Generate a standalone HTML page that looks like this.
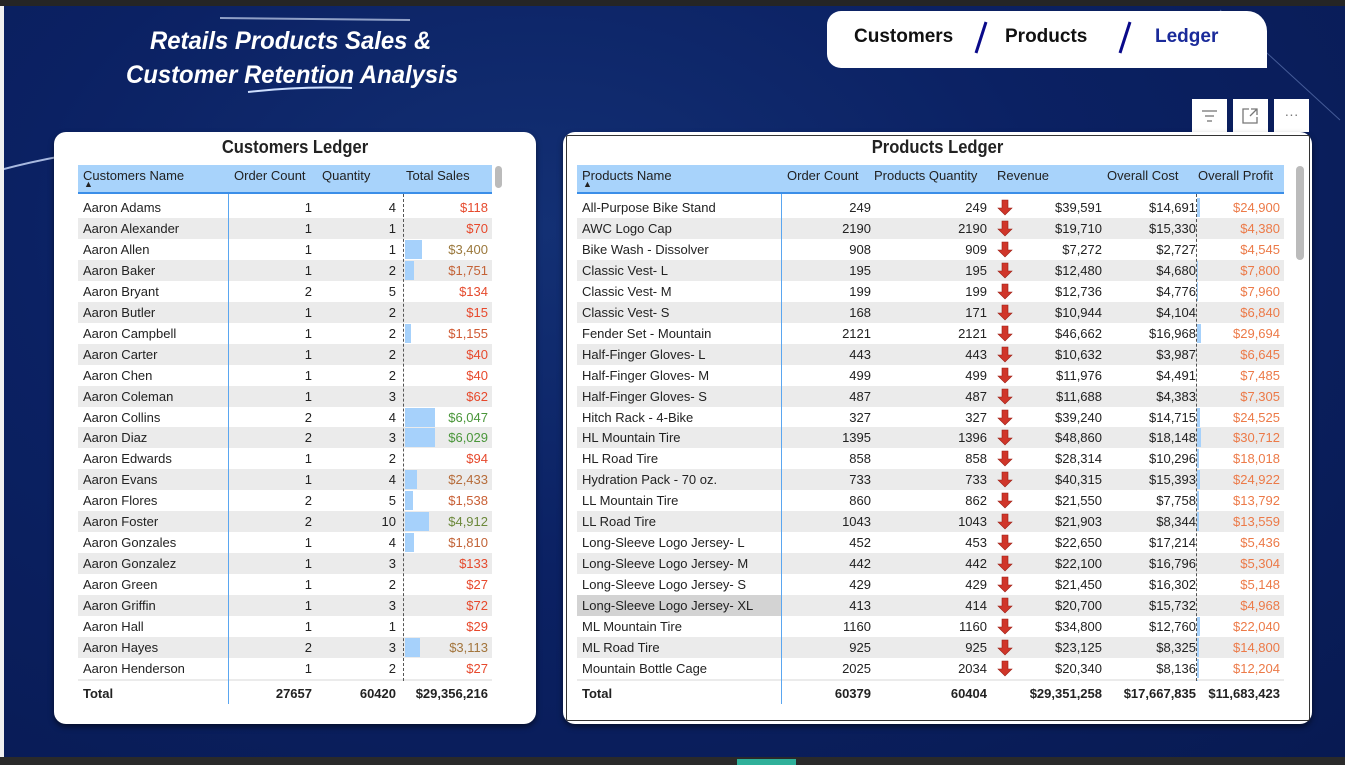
<!DOCTYPE html>
<html><head><meta charset="utf-8">
<style>
*{box-sizing:border-box;margin:0;padding:0}
body{width:1345px;height:765px;overflow:hidden;font-family:"Liberation Sans",sans-serif;background:#0b1f5c;position:relative}
#bg{position:absolute;left:0;top:0;width:1345px;height:765px;background:radial-gradient(ellipse at 40% 30%,#133074 0%,#0b2163 45%,#081a52 100%)}
.abs{position:absolute}
.title{color:#fff;font-weight:bold;font-style:italic;font-size:25px;white-space:nowrap;transform-origin:left top;transform:scaleX(0.955)}
.card{position:absolute;background:#fff;border-radius:12px;box-shadow:0 3px 6px rgba(0,0,0,.5)}
.ct{position:absolute;font-weight:bold;font-size:18px;color:#222;text-align:center;transform:scaleX(.92)}
.cell{position:absolute;font-size:13px;color:#222;white-space:nowrap;line-height:21px;height:21px}
.hdr{position:absolute;background:#a8d3fb;border-bottom:2px solid #3b8ee8}
.hc{position:absolute;font-size:13px;color:#222;top:3px;white-space:nowrap}
.r{text-align:right}
</style></head><body>
<div id="bg"></div>
<svg class="abs" style="left:0;top:0" width="1345" height="765">
<path d="M0 170 Q150 130 310 150" stroke="#cfe0ff" stroke-width="2" fill="none" opacity=".8"/>
<path d="M220 18 L410 20" stroke="#c8d4f0" stroke-width="2" fill="none" opacity=".7"/>
<path d="M248 92 Q300 86 352 88" stroke="#cfe0ff" stroke-width="2" fill="none"/>
<path d="M1220 10 L1340 120" stroke="#6d84c0" stroke-width="1" fill="none" opacity=".6"/>
</svg>
<div class="abs" style="left:0;top:0;width:1345px;height:6px;background:#252525"></div>
<div class="abs" style="left:0;top:757px;width:1345px;height:8px;background:#2a2a2a"></div>
<div class="abs" style="left:737px;top:759px;width:59px;height:6px;background:#2fb09a"></div>
<div class="abs" style="left:0;top:6px;width:4px;height:751px;background:#f0f0f0"></div>

<div class="abs title" style="left:150px;top:27px">Retails Products Sales &amp;</div>
<div class="abs title" style="left:126px;top:61px">Customer Retention Analysis</div>

<div class="abs" style="left:827px;top:11px;width:440px;height:57px;background:#fff;border-radius:14px 20px 0 14px"></div>
<div class="abs" style="left:854px;top:26px;font-size:19px;font-weight:bold;color:#111">Customers</div>
<div class="abs" style="left:1005px;top:26px;font-size:19px;font-weight:bold;color:#111">Products</div>
<div class="abs" style="left:1155px;top:26px;font-size:19px;font-weight:bold;color:#1a2a9a">Ledger</div>
<svg class="abs" style="left:960px;top:18px" width="200" height="40">
<line x1="26" y1="4" x2="16" y2="35" stroke="#0a0a8a" stroke-width="3"/>
<line x1="170" y1="4" x2="160" y2="35" stroke="#0a0a8a" stroke-width="3"/>
</svg>

<div class="abs" style="left:1192px;top:99px;width:35px;height:33px;background:#fff"><svg width="35" height="33"><g stroke="#777" stroke-width="1.3"><line x1="10" y1="12" x2="25" y2="12"/><line x1="13" y1="17" x2="22" y2="17"/><line x1="15" y1="22" x2="20" y2="22"/></g></svg></div>
<div class="abs" style="left:1233px;top:99px;width:35px;height:33px;background:#fff"><svg width="35" height="33"><g stroke="#777" stroke-width="1.3" fill="none"><path d="M16 10 H10 V24 H24 V18"/><path d="M18 10 H24 V16 M24 10 L17 17"/></g></svg></div>
<div class="abs" style="left:1274px;top:99px;width:35px;height:33px;background:#fff;color:#777;font-size:14px;text-align:center;line-height:30px">···</div>

<div class="card" style="left:54px;top:132px;width:482px;height:592px"></div>
<div class="ct" style="left:54px;top:137px;width:482px">Customers Ledger</div>
<div class="card" style="left:563px;top:132px;width:749px;height:592px"></div>
<div class="abs" style="left:566px;top:135px;width:744px;height:586px;border:1px solid #333;border-radius:2px"></div>
<div class="ct" style="left:563px;top:137px;width:749px">Products Ledger</div>

<div id="cust"></div>
<div id="prod"></div>

<script>
const custNames=["Aaron Adams","Aaron Alexander","Aaron Allen","Aaron Baker","Aaron Bryant","Aaron Butler","Aaron Campbell","Aaron Carter","Aaron Chen","Aaron Coleman","Aaron Collins","Aaron Diaz","Aaron Edwards","Aaron Evans","Aaron Flores","Aaron Foster","Aaron Gonzales","Aaron Gonzalez","Aaron Green","Aaron Griffin","Aaron Hall","Aaron Hayes","Aaron Henderson","Aaron Howard"];
const custOrders=[1,1,1,1,2,1,1,1,1,1,2,2,1,1,2,2,1,1,1,1,1,2,1,1];
const custQty=[4,1,1,2,5,2,2,2,2,3,4,3,2,4,5,10,4,3,2,3,1,3,2,1];
const custSales=[118,70,3400,1751,134,15,1155,40,40,62,6047,6029,94,2433,1538,4912,1810,133,27,72,29,3113,27,34];
const custTotals=["27657","60420","$29,356,216"];

const prodNames=["All-Purpose Bike Stand","AWC Logo Cap","Bike Wash - Dissolver","Classic Vest- L","Classic Vest- M","Classic Vest- S","Fender Set - Mountain","Half-Finger Gloves- L","Half-Finger Gloves- M","Half-Finger Gloves- S","Hitch Rack - 4-Bike","HL Mountain Tire","HL Road Tire","Hydration Pack - 70 oz.","LL Mountain Tire","LL Road Tire","Long-Sleeve Logo Jersey- L","Long-Sleeve Logo Jersey- M","Long-Sleeve Logo Jersey- S","Long-Sleeve Logo Jersey- XL","ML Mountain Tire","ML Road Tire","Mountain Bottle Cage","Mountain Tire Tube"];
const prodOrders=[249,2190,908,195,199,168,2121,443,499,487,327,1395,858,733,860,1043,452,442,429,413,1160,925,2025,3000];
const prodQty=[249,2190,909,195,199,171,2121,443,499,487,327,1396,858,733,862,1043,453,442,429,414,1160,925,2034,3000];
const prodRevenue=[39591,19710,7272,12480,12736,10944,46662,10632,11976,11688,39240,48860,28314,40315,21550,21903,22650,22100,21450,20700,34800,23125,20340,15000];
const prodCost=[14691,15330,2727,4680,4776,4104,16968,3987,4491,4383,14715,18148,10296,15393,7758,8344,17214,16796,16302,15732,12760,8325,8136,6000];
const prodProfit=[24900,4380,4545,7800,7960,6840,29694,6645,7485,7305,24525,30712,18018,24922,13792,13559,5436,5304,5148,4968,22040,14800,12204,9000];
const prodTotals=["60379","60404","$29,351,258","$17,667,835","$11,683,423"];

const fmt=v=>"$"+v.toLocaleString("en-US");
const ROW0=197,RH=20.95,CLIP=681;
function mk(parent,cls,css,txt){const d=document.createElement("div");d.className=cls;d.style.cssText=css;if(txt!==undefined)d.textContent=txt;parent.appendChild(d);return d;}
function lerp(a,b,t){return a.map((x,i)=>Math.round(x+(b[i]-x)*t));}
function salesColor(v){const t=Math.min(1,v/6000);let c;if(t<0.45)c=lerp([232,72,44],[176,112,60],t/0.45);else c=lerp([176,112,60],[74,150,58],(t-0.45)/0.55);return `rgb(${c})`;}

const C=document.getElementById("cust");
const cx={l:78,r:492};
const hdr=mk(C,"hdr",`left:${cx.l}px;top:165px;width:${cx.r-cx.l}px;height:29px`);


[["Customers Name",5],["Order Count",156],["Quantity",244],["Total Sales",328]].forEach(h=>{const e=mk(hdr,"hc",`left:${h[1]}px`,h[0]);});
const ar=mk(hdr,"hc","left:6px;top:14px;font-size:9px","▲");


const cbody=mk(C,"abs",`left:${cx.l}px;top:${ROW0}px;width:${cx.r-cx.l}px;height:${CLIP-ROW0}px;overflow:hidden`);


const maxS=Math.max(...custSales);
custNames.forEach((n,i)=>{
  const row=mk(cbody,"abs",`left:0;top:${i*RH}px;width:100%;height:21px;background:${i%2?"#ebebeb":"#fff"}`);
  
  
  const bw=custSales[i]/maxS*30;
  if(bw>=1.5){const b=mk(row,"abs",`left:327px;top:1px;width:${bw}px;height:19px;background:#a6d1fb`);}
  mk(row,"cell","left:5px",n);
  mk(row,"cell r",`left:150px;width:84px`,custOrders[i]);
  mk(row,"cell r",`left:240px;width:78px`,custQty[i]);
  const s=mk(row,"cell r",`left:330px;width:80px;color:${salesColor(custSales[i])}`,fmt(custSales[i]));
  
  
});
mk(C,"abs",`left:228px;top:194px;width:1px;height:510px;background:#5aa6f0`);
mk(C,"abs",`left:403px;top:194px;width:0;height:487px;border-left:1px dashed #555`);
const ct=mk(C,"abs",`left:${cx.l}px;top:683px;width:${cx.r-cx.l}px;height:21px;font-weight:bold`);


mk(ct,"cell","left:5px;font-weight:bold","Total");
mk(ct,"cell r","left:150px;width:84px;font-weight:bold",custTotals[0]);
mk(ct,"cell r","left:240px;width:78px;font-weight:bold",custTotals[1]);
mk(ct,"cell r","left:320px;width:90px;font-weight:bold",custTotals[2]);
const sb1=mk(C,"abs","left:495px;top:166px;width:7px;height:22px;background:#bbb;border-radius:4px");



const P=document.getElementById("prod");
const px={l:577,r:1284};
const ph=mk(P,"hdr",`left:${px.l}px;top:165px;width:${px.r-px.l}px;height:29px`);


[["Products Name",5],["Order Count",210],["Products Quantity",297],["Revenue",420],["Overall Cost",530],["Overall Profit",621]].forEach(h=>{const e=mk(ph,"hc",`left:${h[1]}px`,h[0]);});
const par=mk(ph,"hc","left:6px;top:14px;font-size:9px","▲");


const pbody=mk(P,"abs",`left:${px.l}px;top:${ROW0}px;width:${px.r-px.l}px;height:${CLIP-ROW0}px;overflow:hidden`);


const maxP=Math.max(...prodProfit);
prodNames.forEach((n,i)=>{
  const row=mk(pbody,"abs",`left:0;top:${i*RH}px;width:100%;height:21px;background:${i%2?"#ebebeb":"#fff"}`);
  
  
  if(i===19){mk(row,"abs","left:0;top:0;width:204px;height:21px;background:#d3d3d3");}
  const bw=prodProfit[i]/maxP*4;
  if(bw>=1){const b=mk(row,"abs",`left:620px;top:1px;width:${bw}px;height:19px;background:#a6d1fb`);}
  mk(row,"cell","left:5px",n);
  mk(row,"cell r","left:200px;width:94px",prodOrders[i]);
  mk(row,"cell r","left:300px;width:110px",prodQty[i]);
  const a=mk(row,"abs","left:420px;top:2px;width:16px;height:17px");
  a.innerHTML='<svg width="16" height="17"><path d="M5 1 H11 V9 H15 L8 16 L1 9 H5 Z" fill="#d0362a" stroke="#9a1e14" stroke-width="0.6"/></svg>';
  
  
  mk(row,"cell r","left:440px;width:85px",fmt(prodRevenue[i]));
  mk(row,"cell r","left:530px;width:89px",fmt(prodCost[i]));
  const pf=mk(row,"cell r","left:625px;width:78px;color:#ec7a48",fmt(prodProfit[i]));
  
  
});
mk(P,"abs","left:781px;top:194px;width:1px;height:510px;background:#5aa6f0");
mk(P,"abs","left:1196px;top:194px;width:0;height:487px;border-left:1px dashed #555");
const pt=mk(P,"abs",`left:${px.l}px;top:683px;width:${px.r-px.l}px;height:21px`);


mk(pt,"cell","left:5px;font-weight:bold","Total");
mk(pt,"cell r","left:200px;width:94px;font-weight:bold",prodTotals[0]);
mk(pt,"cell r","left:300px;width:110px;font-weight:bold",prodTotals[1]);
mk(pt,"cell r","left:420px;width:105px;font-weight:bold",prodTotals[2]);
mk(pt,"cell r","left:520px;width:99px;font-weight:bold",prodTotals[3]);
mk(pt,"cell r","left:620px;width:83px;font-weight:bold",prodTotals[4]);
const sb2=mk(P,"abs","left:1296px;top:166px;width:8px;height:94px;background:#bbb;border-radius:4px");


</script>
</body></html>
